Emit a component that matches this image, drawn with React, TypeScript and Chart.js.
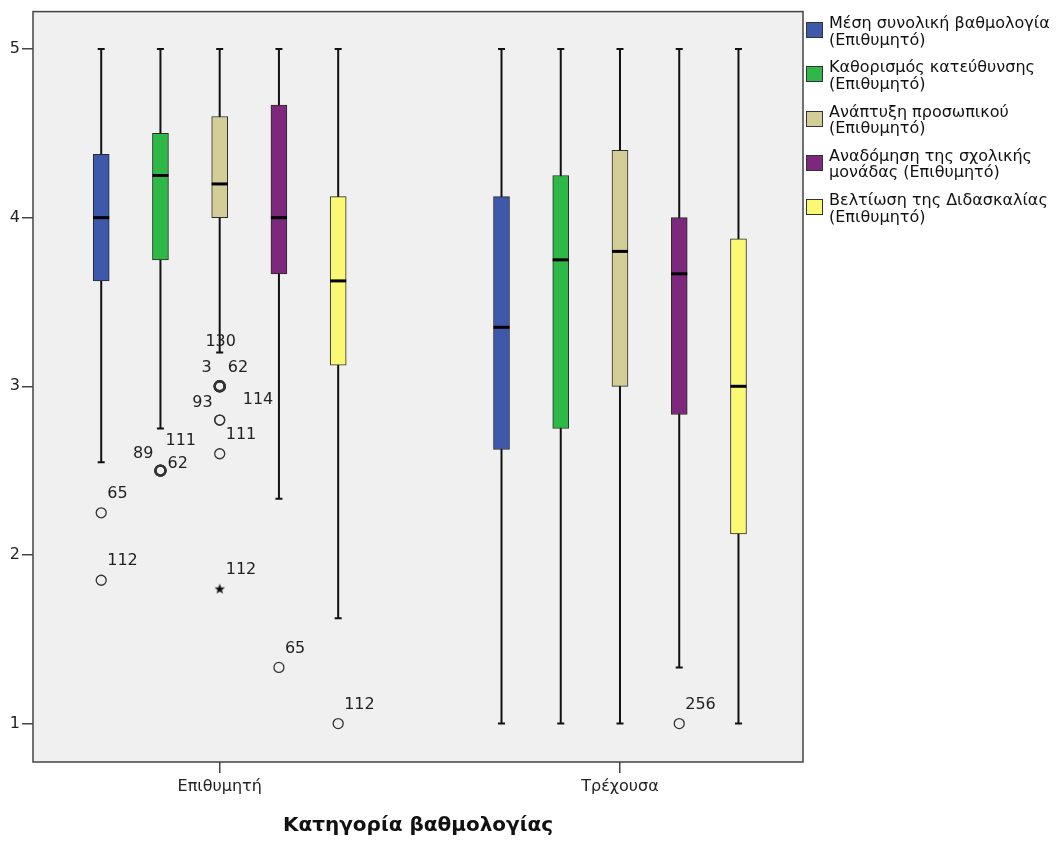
import React, { useEffect, useRef } from 'react';
import { Chart, registerables } from 'chart.js';

Chart.register(...registerables);

const groups = ['Επιθυμητή', 'Τρέχουσα'];
const seriesNames = [
  'Μέση συνολική βαθμολογία\n(Επιθυμητό)',
  'Καθορισμός κατεύθυνσης\n(Επιθυμητό)',
  'Ανάπτυξη προσωπικού\n(Επιθυμητό)',
  'Αναδόμηση της σχολικής\nμονάδας (Επιθυμητό)',
  'Βελτίωση της Διδασκαλίας\n(Επιθυμητό)',
];
const seriesColors = ['#3E58AC', '#2EB848', '#D3CE97', '#7C287D', '#FBF873'];

// one row per series: [Επιθυμητή, Τρέχουσα]
const whiskerLow = [[2.55, 1], [2.75, 1], [3.2, 1], [2.333, 1.333], [1.625, 1]];
const q1 = [[3.625, 2.625], [3.75, 2.75], [4.0, 3.0], [3.667, 2.833], [3.125, 2.125]];
const median = [[4.0, 3.35], [4.25, 3.75], [4.2, 3.8], [4.0, 3.667], [3.625, 3.0]];
const q3 = [[4.375, 4.125], [4.5, 4.25], [4.6, 4.4], [4.667, 4.0], [4.125, 3.875]];
const whiskerHigh = [[5, 5], [5, 5], [5, 5], [5, 5], [5, 5]];
const yTicks = [1, 2, 3, 4, 5];

// [series, group, value, case number, marker]
const outliers: [number, number, number, string, string][] = [
  [0, 0, 2.25, '65', 'o'],
  [0, 0, 1.85, '112', 'o'],
  [1, 0, 2.5, '89', 'o'],
  [1, 0, 2.5, '111', 'o'],
  [1, 0, 2.5, '62', 'o'],
  [2, 0, 3.0, '130', 'o'],
  [2, 0, 3.0, '3', 'o'],
  [2, 0, 3.0, '62', 'o'],
  [2, 0, 2.8, '93', 'o'],
  [2, 0, 2.8, '114', 'o'],
  [2, 0, 2.6, '111', 'o'],
  [2, 0, 1.8, '112', '*'],
  [3, 0, 1.333, '65', 'o'],
  [4, 0, 1.0, '112', 'o'],
  [3, 1, 1.0, '256', 'o'],
];

// where case labels sit around their point (px), default is upper right
const labelPlacement: Record<string, [number, number, CanvasTextAlign]> = {
  '1-0-89': [-7, -17, 'right'],
  '1-0-111': [5, -30, 'left'],
  '1-0-62': [7, -7, 'left'],
  '2-0-130': [1, -44, 'center'],
  '2-0-3': [-8, -18, 'right'],
  '2-0-62': [8, -18, 'left'],
  '2-0-93': [-7, -17, 'right'],
  '2-0-114': [23, -20, 'left'],
};

const boxStep = 0.148;
const boxWidth = 16;
const xPos = (s: number, g: number) => g + 1 + (s - 2) * boxStep;
const font = 'DejaVu Sans';

const sameSpot = (o: [number, number, number, string, string]) =>
  outliers.filter((p) => p[0] === o[0] && p[1] === o[1] && p[2] === o[2]).length;

// small filled five-point star for extreme values
const makeStar = () => {
  const c = document.createElement('canvas');
  c.width = 12;
  c.height = 12;
  const g = c.getContext('2d')!;
  g.fillStyle = '#111';
  g.beginPath();
  for (let i = 0; i < 10; i++) {
    const r = i % 2 === 0 ? 5.5 : 2.3;
    const a = -Math.PI / 2 + (i * Math.PI) / 5;
    const px = 6 + r * Math.cos(a);
    const py = 6.5 + r * Math.sin(a);
    if (i === 0) g.moveTo(px, py);
    else g.lineTo(px, py);
  }
  g.closePath();
  g.fill();
  return c;
};

const boxPlugin = {
  id: 'boxplot',
  beforeDraw(chart: any) {
    const { ctx, chartArea: a } = chart;
    ctx.save();
    ctx.fillStyle = '#F0F0F0';
    ctx.fillRect(a.left, a.top, a.right - a.left, a.bottom - a.top);
    ctx.restore();
  },
  beforeDatasetsDraw(chart: any) {
    const { ctx, scales } = chart;
    ctx.save();
    ctx.strokeStyle = '#111';
    ctx.lineWidth = 2;
    seriesNames.forEach((_, s) => {
      groups.forEach((__, g) => {
        const x = scales.x.getPixelForValue(xPos(s, g));
        const lo = scales.y.getPixelForValue(whiskerLow[s][g]);
        const hi = scales.y.getPixelForValue(whiskerHigh[s][g]);
        ctx.beginPath();
        ctx.moveTo(x, lo);
        ctx.lineTo(x, hi);
        ctx.moveTo(x - 3.5, lo);
        ctx.lineTo(x + 3.5, lo);
        ctx.moveTo(x - 3.5, hi);
        ctx.lineTo(x + 3.5, hi);
        ctx.stroke();
      });
    });
    ctx.restore();
  },
  afterDatasetsDraw(chart: any) {
    const { ctx, scales } = chart;
    ctx.save();
    ctx.strokeStyle = '#000';
    ctx.lineWidth = 3;
    seriesNames.forEach((_, s) => {
      groups.forEach((__, g) => {
        const x = scales.x.getPixelForValue(xPos(s, g));
        const y = scales.y.getPixelForValue(median[s][g]);
        ctx.beginPath();
        ctx.moveTo(x - boxWidth / 2, y);
        ctx.lineTo(x + boxWidth / 2, y);
        ctx.stroke();
      });
    });
    ctx.fillStyle = '#222';
    ctx.font = `16px "${font}"`;
    ctx.textBaseline = 'middle';
    outliers.forEach(([s, g, v, id]) => {
      const [dx, dy, align] = labelPlacement[`${s}-${g}-${id}`] || [6, -19, 'left'];
      const x = scales.x.getPixelForValue(xPos(s, g));
      const y = scales.y.getPixelForValue(v);
      ctx.textAlign = align;
      ctx.fillText(id, x + dx, y + dy);
    });
    ctx.restore();
  },
  afterDraw(chart: any) {
    const { ctx, chartArea: a } = chart;
    ctx.save();
    ctx.strokeStyle = '#444';
    ctx.lineWidth = 1.5;
    ctx.strokeRect(a.left, a.top, a.right - a.left, a.bottom - a.top);
    ctx.restore();
  },
};

const App = () => {
  const canvasRef = useRef<HTMLCanvasElement>(null);

  useEffect(() => {
    const ctx = canvasRef.current!.getContext('2d')!;
    const star = makeStar();

    const boxSets = seriesNames.map((name, s) => ({
      type: 'bar' as const,
      label: name,
      data: groups.map((_, g) => ({ x: xPos(s, g), y: [q1[s][g], q3[s][g]] })),
      backgroundColor: seriesColors[s],
      borderColor: '#2a2a2a',
      borderWidth: 1,
      borderSkipped: false,
      barThickness: boxWidth,
      grouped: false,
    }));

    const outlierSet = {
      type: 'scatter' as const,
      label: 'outliers',
      data: outliers.map((o) => ({ x: xPos(o[0], o[1]), y: o[2] })),
      pointStyle: outliers.map((o) => (o[4] === '*' ? star : 'circle')),
      pointRadius: 5,
      pointBackgroundColor: 'rgba(0,0,0,0)',
      pointBorderColor: '#333',
      pointBorderWidth: outliers.map((o) => (sameSpot(o) > 2 ? 2.4 : 1.3)),
    };

    const chart = new Chart(ctx, {
      type: 'bar',
      data: { datasets: [...boxSets, outlierSet] as any },
      options: {
        animation: false,
        responsive: true,
        maintainAspectRatio: false,
        layout: { padding: { top: 10, right: 257, left: 0, bottom: 0 } },
        plugins: {
          legend: { display: false },
          tooltip: { enabled: false },
        },
        scales: {
          x: {
            type: 'linear',
            min: 0.5336,
            max: 2.4572,
            offset: false,
            afterBuildTicks: (sc: any) => {
              sc.ticks = groups.map((_, i) => ({ value: i + 1 }));
            },
            afterFit: (sc: any) => {
              sc.height = 81;
            },
            ticks: {
              callback: (v: any) => groups[Math.round(v) - 1],
              font: { family: font, size: 16 },
              color: '#222',
              padding: 4,
              maxRotation: 0,
            },
            grid: {
              offset: false,
              drawOnChartArea: false,
              tickLength: 11,
              color: '#444',
              lineWidth: 1.5,
            },
            border: { display: false },
            title: {
              display: true,
              text: 'Κατηγορία βαθμολογίας',
              font: { family: font, size: 20, weight: 'bold' },
              color: '#111',
              padding: { top: 0, bottom: 5 },
            },
          },
          y: {
            type: 'linear',
            min: 0.7722,
            max: 5.2219,
            afterBuildTicks: (sc: any) => {
              sc.ticks = yTicks.map((v) => ({ value: v }));
            },
            afterFit: (sc: any) => {
              sc.width = 33;
            },
            ticks: {
              callback: (v: any) => String(v),
              font: { family: font, size: 16 },
              color: '#222',
              padding: 2,
            },
            grid: {
              drawOnChartArea: false,
              tickLength: 11,
              color: '#444',
              lineWidth: 1.5,
            },
            border: { display: false },
          },
        },
      } as any,
      plugins: [boxPlugin],
    });

    return () => chart.destroy();
  }, []);

  return (
    <div style={{ position: 'absolute', left: 0, top: 0, width: 1060, height: 843, background: '#fff' }}>
      <canvas ref={canvasRef} />
      <div
        style={{
          position: 'absolute',
          left: 806,
          top: 15,
          fontFamily: font,
          fontSize: 16,
          lineHeight: '16.5px',
          color: '#111',
          whiteSpace: 'nowrap',
        }}
      >
        {seriesNames.map((name, s) => (
          <div key={name} style={{ display: 'flex', alignItems: 'flex-start', height: 44.3 }}>
            <div
              style={{
                width: 15,
                height: 14,
                marginTop: 7,
                marginRight: 6,
                background: seriesColors[s],
                border: '1px solid #333',
                flexShrink: 0,
              }}
            />
            <div>
              {name.split('\n').map((line) => (
                <div key={line}>{line}</div>
              ))}
            </div>
          </div>
        ))}
      </div>
    </div>
  );
};

export default App;
